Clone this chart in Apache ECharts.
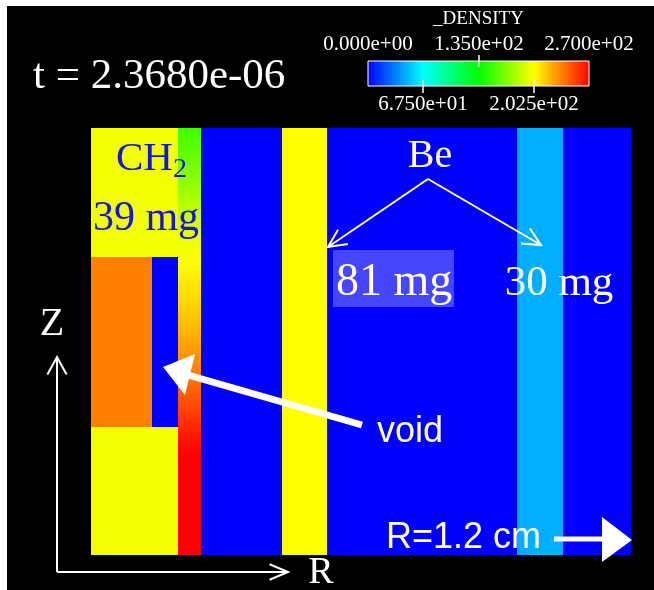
<!DOCTYPE html>
<html>
<head>
<meta charset="utf-8">
<script src="https://cdn.jsdelivr.net/npm/echarts@6/dist/echarts.min.js"></script>
<style>html,body{margin:0;padding:0;background:#fff}#c{width:654px;height:590px}</style>
</head>
<body>
<div id="c"></div>
<script>
// ---- Data (R and Z in cm, density in colour-bar units) ----
const regionNames = ['CH2 top', 'CH2 core (compressed)', 'void', 'CH2 bottom', 'gap', 'Be 81 mg', 'gap', 'Be 30 mg', 'outer'];
const regionR0 = [0.000, 0.000, 0.136, 0.000, 0.244, 0.424, 0.524, 0.947, 1.049];
const regionR1 = [0.193, 0.136, 0.193, 0.193, 0.424, 0.524, 0.947, 1.049, 1.200];
const regionZ0 = [0.662, 0.284, 0.284, 0.000, 0.000, 0.000, 0.000, 0.000, 0.000];
const regionZ1 = [0.949, 0.662, 0.662, 0.284, 0.949, 0.949, 0.949, 0.949, 0.949];
const regionDensity = [199, 236, 0, 199, 0, 202.5, 0, 46, 0];

// graded layer column (R 0.193 - 0.244): density sampled at heights Z
const layerR0 = 0.193, layerR1 = 0.244;
const layerZ = [0.949, 0.900, 0.851, 0.802, 0.753, 0.704, 0.656, 0.589, 0.522, 0.456, 0.389, 0.322, 0.267, 0.222, 0.000];
const layerDensity = [152, 160, 168, 178, 189, 197, 202, 210, 218, 229, 240, 252, 263, 270, 270];

// colour bar
const cbMin = 0, cbMax = 270;
const cbTickValues = [0, 67.5, 135, 202.5, 270];
const cbTickLabels = ['0.000e+00', '6.750e+01', '1.350e+02', '2.025e+02', '2.700e+02'];
const rainbow = ['#0000ff', '#00ffff', '#00ff00', '#ffff00', '#ff0000'];

const rMax = 1.2, zMax = 0.949;

// ---- build ----
const regionData = regionR0.map((r0, i) => [r0, regionR1[i], regionZ0[i], regionZ1[i], regionDensity[i]]);
// each layer cell spans two consecutive samples: [r0, r1, zLow, zHigh, densityTop, densityBottom]
const layerData = layerZ.slice(0, -1).map((zTop, i) =>
  [layerR0, layerR1, layerZ[i + 1], zTop, layerDensity[i], layerDensity[i + 1]]);

const rainbowRGB = rainbow.map(h => [parseInt(h.substr(1, 2), 16), parseInt(h.substr(3, 2), 16), parseInt(h.substr(5, 2), 16)]);
function densityColor(v) {
  let t = (v - cbMin) / (cbMax - cbMin) * (rainbowRGB.length - 1);
  t = Math.max(0, Math.min(rainbowRGB.length - 1, t));
  const i = Math.min(rainbowRGB.length - 2, Math.floor(t)), f = t - i;
  const a = rainbowRGB[i], b = rainbowRGB[i + 1];
  return 'rgb(' + a.map((c, k) => Math.round(c + (b[k] - c) * f)).join(',') + ')';
}

function cellRect(api) {
  const a = api.coord([api.value(0), api.value(3)]);
  const b = api.coord([api.value(1), api.value(2)]);
  const x0 = Math.round(a[0]), y0 = Math.round(a[1]);
  const x1 = Math.round(b[0]), y1 = Math.round(b[1]);
  return {x: x0, y: y0, width: x1 - x0, height: y1 - y0};
}
function renderCell(params, api) {
  return {type: 'rect', shape: cellRect(api), style: {fill: api.visual('color')}};
}
function renderLayer(params, api) {
  return {type: 'rect', shape: cellRect(api), style: {fill: new echarts.graphic.LinearGradient(0, 0, 0, 1, [
    {offset: 0, color: densityColor(api.value(4))}, {offset: 1, color: densityColor(api.value(5))}])}};
}

const serif = '"Liberation Serif", "DejaVu Serif", serif';
const sans = '"Liberation Sans", Arial, sans-serif';

// colour bar graphics
const cbX = 368, cbY = 61, cbW = 221, cbH = 25;
const cbGraphics = [{
  type: 'rect', z: 100, shape: {x: cbX, y: cbY, width: cbW, height: cbH},
  style: {fill: new echarts.graphic.LinearGradient(0, 0, 1, 0,
    rainbow.map((c, i) => ({offset: i / (rainbow.length - 1), color: c}))),
    stroke: '#fff', lineWidth: 1}
}, {
  type: 'text', z: 100, style: {text: '_DENSITY', x: cbX + cbW / 2, y: 19, align: 'center', verticalAlign: 'middle',
    fill: '#fff', font: '19px ' + serif}
}];
cbTickValues.forEach((v, i) => {
  const x = Math.round(cbX + (v - cbMin) / (cbMax - cbMin) * cbW);
  const top = i % 2 === 0;
  if (i > 0 && i < cbTickValues.length - 1) {
    cbGraphics.push({type: 'line', z: 101, shape: top ? {x1: x, y1: 55, x2: x, y2: 67} : {x1: x, y1: 80, x2: x, y2: 93},
      style: {stroke: '#fff', lineWidth: 1.5}});
  }
  cbGraphics.push({type: 'text', z: 100, style: {text: cbTickLabels[i], x: x, y: top ? 44 : 104,
    align: 'center', verticalAlign: 'middle', fill: '#fff', font: '21px ' + serif}});
});

function openArrow(x1, y1, x2, y2, len, ang, w) {
  const dx = x1 - x2, dy = y1 - y2, d = Math.hypot(dx, dy);
  const ux = dx / d, uy = dy / d;
  const c = Math.cos(ang), s = Math.sin(ang);
  const a1 = [x2 + len * (ux * c - uy * s), y2 + len * (ux * s + uy * c)];
  const a2 = [x2 + len * (ux * c + uy * s), y2 + len * (-ux * s + uy * c)];
  return [
    {type: 'line', z: 110, shape: {x1, y1, x2, y2}, style: {stroke: '#fff', lineWidth: w}},
    {type: 'polyline', z: 110, shape: {points: [a1, [x2, y2], a2]}, style: {stroke: '#fff', lineWidth: w, fill: null}}
  ];
}

const annot = [
  {type: 'rect', z: 0, shape: {x: 0, y: 0, width: 7, height: 590}, style: {fill: '#fff'}},
  {type: 'rect', z: 0, shape: {x: 0, y: 0, width: 654, height: 6}, style: {fill: '#fff'}},
  {type: 'text', z: 100, style: {text: 't = 2.3680e-06', x: 33, y: 77, verticalAlign: 'middle', fill: '#fff', font: '43px ' + serif}},
  {type: 'text', z: 110, style: {text: '{a|CH}{b|2}', x: 116, y: 159, verticalAlign: 'middle',
    rich: {a: {fill: '#1414e4', font: '41px ' + serif}, b: {fill: '#1414e4', font: '28px ' + serif, padding: [22, 0, 0, 0]}}}},
  {type: 'text', z: 110, style: {text: '39 mg', x: 146, y: 219, align: 'center', verticalAlign: 'middle', fill: '#1414e4', font: '42px ' + serif}},
  {type: 'text', z: 110, style: {text: 'Be', x: 430, y: 156, align: 'center', verticalAlign: 'middle', fill: '#fff', font: '40px ' + serif}},
  {type: 'rect', z: 105, shape: {x: 333, y: 250, width: 121, height: 57}, style: {fill: '#4646ff'}},
  {type: 'text', z: 110, style: {text: '81 mg', x: 336, y: 283, verticalAlign: 'middle', fill: '#fff', font: '46px ' + serif}},
  {type: 'text', z: 110, style: {text: '30 mg', x: 559, y: 284, align: 'center', verticalAlign: 'middle', fill: '#fff', font: '43px ' + serif}},
  {type: 'text', z: 110, style: {text: 'void', x: 377, y: 432, verticalAlign: 'middle', fill: '#fff', font: '36px ' + sans}},
  {type: 'text', z: 110, style: {text: 'R=1.2 cm', x: 386, y: 538, verticalAlign: 'middle', fill: '#fff', font: '36px ' + sans}},
  {type: 'line', z: 110, shape: {x1: 554, y1: 539, x2: 604, y2: 539}, style: {stroke: '#fff', lineWidth: 5}},
  {type: 'polygon', z: 110, shape: {points: [[602, 517], [632, 540], [602, 562]]}, style: {fill: '#fff'}},
  {type: 'line', z: 110, shape: {x1: 362, y1: 425, x2: 188, y2: 375}, style: {stroke: '#fff', lineWidth: 7}},
  {type: 'polygon', z: 110, shape: {points: [[163, 367], [195, 354], [185, 395]]}, style: {fill: '#fff'}},
  {type: 'text', z: 110, style: {text: 'Z', x: 52, y: 324, align: 'center', verticalAlign: 'middle', fill: '#fff', font: '40px ' + serif}},
  {type: 'text', z: 110, style: {text: 'R', x: 321, y: 573, align: 'center', verticalAlign: 'middle', fill: '#fff', font: '38px ' + serif}}
].concat(openArrow(428, 179, 328, 247, 20, 0.45, 2))
 .concat(openArrow(428, 179, 541, 245, 20, 0.45, 2))
 .concat(openArrow(57, 572, 57, 357, 20, 0.5, 2))
 .concat(openArrow(57, 572, 288, 572, 20, 0.4, 2))
 .concat(cbGraphics);

const chart = echarts.init(document.getElementById('c'), null, {renderer: 'canvas'});
chart.setOption({
  backgroundColor: '#000',
  animation: false,
  grid: {left: 91, top: 128, width: 540, height: 427},
  xAxis: {type: 'value', min: 0, max: rMax, show: false},
  yAxis: {type: 'value', min: 0, max: zMax, show: false},
  visualMap: {show: false, type: 'continuous', min: cbMin, max: cbMax, dimension: 4, seriesIndex: [0],
    inRange: {color: rainbow}},
  series: [
    {type: 'custom', name: 'regions', renderItem: renderCell, data: regionData, encode: {x: [0, 1], y: [2, 3]}, silent: true},
    {type: 'custom', name: 'graded layer', renderItem: renderLayer, data: layerData, encode: {x: [0, 1], y: [2, 3]}, silent: true}
  ],
  graphic: {elements: annot}
});
</script>
</body>
</html>
